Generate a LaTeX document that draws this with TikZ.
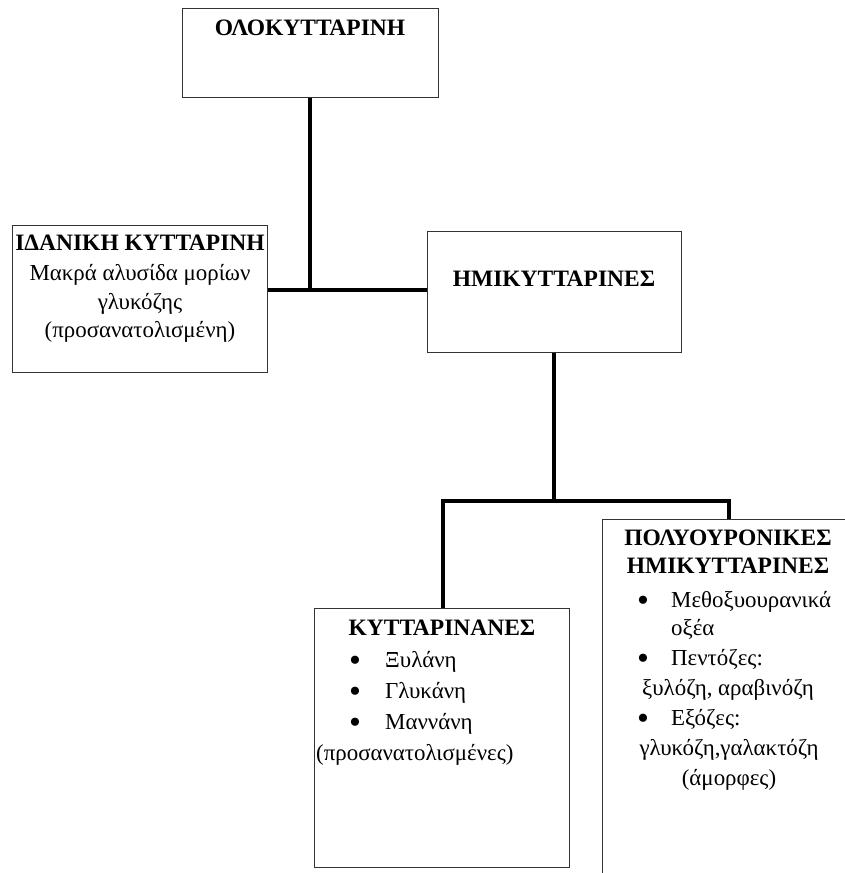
\documentclass[tikz,border=0pt]{standalone}
\usepackage{fontspec}
\setmainfont{Liberation Serif}
\begin{document}
\begin{tikzpicture}[x=1bp,y=-1bp,
  box/.style={draw=black!80, line width=1bp, inner sep=0pt, fill=none},
  conn/.style={line width=3.6bp, draw=black},
  ttl/.style={font=\fontsize{23.5bp}{29bp}\selectfont\bfseries, anchor=base, inner sep=0pt},
  txt/.style={font=\fontsize{22.9bp}{29bp}\selectfont, anchor=base, inner sep=0pt},
  itm/.style={txt, anchor=base west},
  bul/.style={font=\fontsize{34bp}{34bp}\selectfont, anchor=center, inner sep=0pt}]
\path[use as bounding box] (0,0) rectangle (845,873);
\clip (0,0) rectangle (845,873);
% boxes
\node[box, minimum width=256bp, minimum height=88bp] (olo) at (310,53) {};
\node[box, minimum width=254bp, minimum height=147bp] (ida) at (140,298.5) {};
\node[box, minimum width=254bp, minimum height=121bp] (hmi) at (554,291.5) {};
\node[box, minimum width=255bp, minimum height=259bp] (kyt) at (441.5,737.5) {};
\node[box, minimum width=268bp, minimum height=381bp] (pol) at (736,709.5) {};
% texts
\node[ttl] (t1) at (310,35) {ΟΛΟΚΥΤΤΑΡΙΝΗ};
\node[ttl] (t2) at (140,250) {ΙΔΑΝΙΚΗ ΚΥΤΤΑΡΙΝΗ};
\node[txt] (t2a) at (140,280) {Μακρά αλυσίδα μορίων};
\node[txt] (t2b) at (140,309) {γλυκόζης};
\node[txt] (t2c) at (140,337) {(προσανατολισμένη)};
\node[ttl] (t3) at (554,286) {ΗΜΙΚΥΤΤΑΡΙΝΕΣ};
\node[ttl] (t4) at (442,635) {ΚΥΤΤΑΡΙΝΑΝΕΣ};
\node[bul] (k1b) at (355,664) {•};
\node[itm] (k1) at (385,667) {Ξυλάνη};
\node[bul] (k2b) at (355,695) {•};
\node[itm] (k2) at (385,698) {Γλυκάνη};
\node[bul] (k3b) at (355,726) {•};
\node[itm] (k3) at (385,729) {Μαννάνη};
\node[itm] (k4) at (316,760) {(προσανατολισμένες)};
\node[ttl] (t5) at (728,545) {ΠΟΛΥΟΥΡΟΝΙΚΕΣ};
\node[ttl] (t5b) at (728,573) {ΗΜΙΚΥΤΤΑΡΙΝΕΣ};
\node[bul] (p1b) at (643,604) {•};
\node[itm] (p1) at (671,607) {Μεθοξυουρανικά};
\node[itm] (p1c) at (671,635) {οξέα};
\node[bul] (p2b) at (643,662) {•};
\node[itm] (p2) at (671,665) {Πεντόζες:};
\node[txt] (p2c) at (728,695) {ξυλόζη, αραβινόζη};
\node[bul] (p3b) at (643,722) {•};
\node[itm] (p3) at (671,725) {Εξόζες:};
\node[txt] (p3c) at (729,755) {γλυκόζη,γαλακτόζη};
\node[txt] (p4) at (729,785) {(άμορφες)};
% connectors
\coordinate (j1) at (310,290);
\coordinate (j2) at (554,501);
\coordinate (lj) at (443,501);
\coordinate (rj) at (729,501);
\draw[conn] (olo.south) -- (j1);
\draw[conn] (ida.east |- j1) -- (hmi.west |- j1);
\draw[conn] (hmi.south) -- (j2);
\draw[conn] (kyt.north -| lj) -- (lj) -- (rj) -- (rj |- pol.north);
\end{tikzpicture}
\end{document}
